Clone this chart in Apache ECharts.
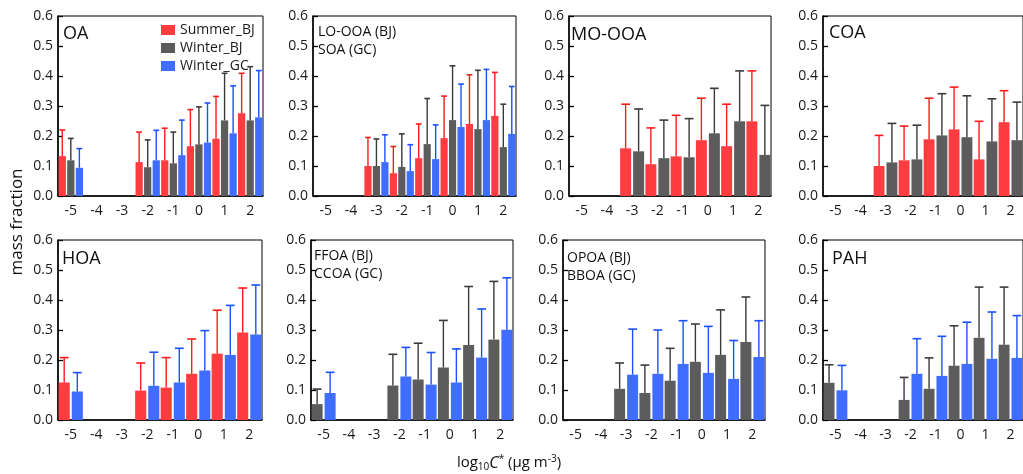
<!DOCTYPE html>
<html>
<head>
<meta charset="utf-8">
<script src="https://cdn.jsdelivr.net/npm/echarts@6/dist/echarts.min.js"></script>
<style>
html,body{margin:0;padding:0;background:#fff;}
#chart{width:1023px;height:474px;}
</style>
</head>
<body>
<div id="chart"></div>
<script>
// volatility bins, log10 C*
var bins = ['-5','-4','-3','-2','-1','0','1','2'];

// mean mass fraction and top of the error bar, per factor
var oaSum      = [0.133, null, null, 0.113, 0.119, 0.166, 0.191, 0.276];
var oaSumHi    = [0.220, null, null, 0.213, 0.226, 0.288, 0.332, 0.409];
var oaWbj      = [0.119, null, null, 0.096, 0.109, 0.172, 0.252, 0.252];
var oaWbjHi    = [0.192, null, null, 0.187, 0.213, 0.297, 0.409, 0.431];
var oaWgc      = [0.094, null, null, 0.119, 0.136, 0.178, 0.209, 0.262];
var oaWgcHi    = [0.158, null, null, 0.219, 0.253, 0.310, 0.367, 0.418];

var looSum     = [null, null, 0.100, 0.076, 0.126, 0.193, 0.240, 0.267];
var looSumHi   = [null, null, 0.195, 0.165, 0.240, 0.333, 0.404, 0.412];
var looWbj     = [null, null, 0.100, 0.097, 0.173, 0.253, 0.223, 0.163];
var looWbjHi   = [null, null, 0.190, 0.207, 0.325, 0.434, 0.419, 0.306];
var looWgc     = [null, null, 0.113, 0.083, 0.123, 0.230, 0.253, 0.207];
var looWgcHi   = [null, null, 0.204, 0.171, 0.237, 0.373, 0.422, 0.365];

var mooSum     = [null, null, 0.159, 0.106, 0.132, 0.186, 0.166, 0.249];
var mooSumHi   = [null, null, 0.306, 0.227, 0.269, 0.326, 0.306, 0.417];
var mooWbj     = [null, null, 0.149, 0.126, 0.129, 0.209, 0.249, 0.137];
var mooWbjHi   = [null, null, 0.290, 0.253, 0.258, 0.359, 0.417, 0.302];

var coaSum     = [null, null, 0.100, 0.119, 0.189, 0.222, 0.122, 0.246];
var coaSumHi   = [null, null, 0.202, 0.233, 0.326, 0.363, 0.249, 0.351];
var coaWbj     = [null, null, 0.112, 0.122, 0.202, 0.196, 0.182, 0.186];
var coaWbjHi   = [null, null, 0.242, 0.236, 0.341, 0.334, 0.324, 0.313];

var hoaSum     = [0.125, null, null, 0.098, 0.108, 0.154, 0.221, 0.292];
var hoaSumHi   = [0.208, null, null, 0.190, 0.208, 0.270, 0.366, 0.440];
var hoaWgc     = [0.095, null, null, 0.114, 0.125, 0.165, 0.217, 0.285];
var hoaWgcHi   = [0.158, null, null, 0.226, 0.239, 0.298, 0.382, 0.450];

var ffoaWbj    = [0.053, null, null, 0.115, 0.135, 0.175, 0.250, 0.268];
var ffoaWbjHi  = [0.103, null, null, 0.219, 0.256, 0.332, 0.445, 0.462];
var ffoaWgc    = [0.090, null, null, 0.145, 0.118, 0.125, 0.208, 0.301];
var ffoaWgcHi  = [0.159, null, null, 0.242, 0.225, 0.237, 0.370, 0.474];

var opoaWbj    = [null, null, 0.104, 0.090, 0.131, 0.194, 0.217, 0.260];
var opoaWbjHi  = [null, null, 0.190, 0.183, 0.239, 0.320, 0.367, 0.410];
var opoaWgc    = [null, null, 0.151, 0.154, 0.187, 0.157, 0.137, 0.210];
var opoaWgcHi  = [null, null, 0.303, 0.300, 0.331, 0.312, 0.265, 0.331];

var pahWbj     = [0.124, null, null, 0.067, 0.104, 0.181, 0.274, 0.251];
var pahWbjHi   = [0.184, null, null, 0.142, 0.207, 0.314, 0.443, 0.443];
var pahWgc     = [0.099, null, null, 0.154, 0.147, 0.187, 0.204, 0.207];
var pahWgcHi   = [0.182, null, null, 0.271, 0.279, 0.326, 0.360, 0.348];

var FONT = "'Open Sans', 'DejaVu Sans', sans-serif";
var CAT_GAP = 0.05, BAR_GAP = 0.18;

var SUM = {name:'Summer_BJ', color:'#ff3c40', err:'#ff1a1a'};
var WBJ = {name:'Winter_BJ', color:'#5c5c5c', err:'#3a3a3a'};
var WGC = {name:'Winter_GC', color:'#3f6dff', err:'#1a50ff'};

var panels = [
	{title:['OA'], tx:63, ty:34, grid:{left:58, top:16, width:205, height:180},
	 series:[[SUM, oaSum, oaSumHi],[WBJ, oaWbj, oaWbjHi],[WGC, oaWgc, oaWgcHi]]},
	{title:['LO-OOA (BJ)','SOA (GC)'], tx:318, ty:32, grid:{left:313, top:16, width:203, height:180},
	 series:[[SUM, looSum, looSumHi],[WBJ, looWbj, looWbjHi],[WGC, looWgc, looWgcHi]]},
	{title:['MO-OOA'], tx:571, ty:35, grid:{left:569, top:16, width:202, height:180},
	 series:[[SUM, mooSum, mooSumHi],[WBJ, mooWbj, mooWbjHi]]},
	{title:['COA'], tx:829, ty:33, grid:{left:823, top:16, width:204, height:180},
	 series:[[SUM, coaSum, coaSumHi],[WBJ, coaWbj, coaWbjHi]]},
	{title:['HOA'], tx:62, ty:259, grid:{left:58, top:240, width:204, height:180},
	 series:[[SUM, hoaSum, hoaSumHi],[WGC, hoaWgc, hoaWgcHi]]},
	{title:['FFOA (BJ)','CCOA (GC)'], tx:314, ty:256, grid:{left:311, top:240, width:202, height:180},
	 series:[[WBJ, ffoaWbj, ffoaWbjHi],[WGC, ffoaWgc, ffoaWgcHi]]},
	{title:['OPOA (BJ)','BBOA (GC)'], tx:567, ty:258, grid:{left:563, top:240, width:202, height:180},
	 series:[[WBJ, opoaWbj, opoaWbjHi],[WGC, opoaWgc, opoaWgcHi]]},
	{title:['PAH'], tx:832, ty:259, grid:{left:823, top:240, width:204, height:180},
	 series:[[WBJ, pahWbj, pahWbjHi],[WGC, pahWgc, pahWgcHi]]}
];

function errRender(n, k, color){
	return function(params, api){
		var xi = api.value(0), m = api.value(1), hi = api.value(2);
		var band = api.size([1, 0])[0];
		var usable = band * (1 - CAT_GAP);
		var bw = usable / (n + (n - 1) * BAR_GAP);
		var cx = api.coord([xi, 0])[0] - usable / 2 + k * bw * (1 + BAR_GAP) + bw / 2;
		var yTop = api.coord([xi, hi])[1];
		var yBot = api.coord([xi, m])[1];
		var cw = bw * 0.8;
		return {
			type:'group',
			children:[
				{type:'line', shape:{x1:cx, y1:yBot, x2:cx, y2:yTop}, style:{stroke:color, lineWidth:1.4}},
				{type:'line', shape:{x1:cx - cw / 2, y1:yTop, x2:cx + cw / 2, y2:yTop}, style:{stroke:color, lineWidth:1.6}}
			]
		};
	};
}

var grids = [], xAxes = [], yAxes = [], series = [], graphics = [];
for(var p = 0; p < panels.length; p++){
	var pn = panels[p];
	grids.push({left:pn.grid.left, top:pn.grid.top, width:pn.grid.width, height:pn.grid.height,
		show:true, borderColor:'#000', borderWidth:1, backgroundColor:'transparent'});
	// axis with labels and ticks below the line
	xAxes.push({type:'category', gridIndex:p, data:bins, position:'bottom',
		axisLine:{lineStyle:{color:'#000', width:1.5}},
		axisTick:{inside:false, length:5, lineStyle:{color:'#000', width:1.3}},
		axisLabel:{color:'#1a1a1a', fontSize:14, fontFamily:FONT, margin:8},
		splitLine:{show:false}});
	// same axis again, only for ticks pointing up
	xAxes.push({type:'category', gridIndex:p, data:bins, position:'bottom', offset:0,
		axisLine:{show:false},
		axisTick:{inside:true, length:5, lineStyle:{color:'#000', width:1.3}},
		axisLabel:{show:false}, splitLine:{show:false}});
	yAxes.push({type:'value', gridIndex:p, min:0, max:0.6, interval:0.1,
		axisLine:{show:true, lineStyle:{color:'#000', width:1.5}},
		axisTick:{show:true, inside:true, length:5, lineStyle:{color:'#000', width:1.3}},
		axisLabel:{color:'#1a1a1a', fontSize:14, fontFamily:FONT, margin:5,
			formatter:function(v){ return v.toFixed(1); }},
		splitLine:{show:false}});
	var n = pn.series.length;
	for(var k = 0; k < n; k++){
		var s = pn.series[k];
		series.push({type:'bar', name:s[0].name, xAxisIndex:p * 2, yAxisIndex:p,
			data:s[1], barCategoryGap:(CAT_GAP * 100) + '%', barGap:(BAR_GAP * 100) + '%',
			itemStyle:{color:s[0].color}, silent:true});
		var ed = [];
		for(var i = 0; i < bins.length; i++){
			if(s[1][i] != null) ed.push([i, s[1][i], s[2][i]]);
		}
		series.push({type:'custom', xAxisIndex:p * 2, yAxisIndex:p, data:ed, silent:true,
			renderItem:errRender(n, k, s[0].err), z:3});
	}
	// panel label
	if(pn.title.length == 1){
		graphics.push({type:'text', x:pn.tx, y:pn.ty, style:{text:pn.title[0], fill:'#111',
			font:'18px ' + FONT, verticalAlign:'middle'}});
	}else{
		for(var t = 0; t < pn.title.length; t++){
			graphics.push({type:'text', x:pn.tx, y:pn.ty + t * 18, style:{text:pn.title[t], fill:'#111',
				font:'14px ' + FONT, verticalAlign:'middle'}});
		}
	}
}

graphics.push({type:'text', x:17, y:222, rotation:Math.PI / 2,
	style:{text:'mass fraction', fill:'#111', font:'17px ' + FONT, align:'center', verticalAlign:'middle'}});
graphics.push({type:'text', x:509, y:463,
	style:{text:'log{sub|10}{it|C}{sup|*} (μg m{sup|-3})', fill:'#111', font:'15px ' + FONT,
		align:'center', verticalAlign:'middle',
		rich:{
			sub:{fontSize:10, fontFamily:FONT, fill:'#111', verticalAlign:'bottom', padding:[8,0,0,0]},
			it:{fontSize:16, fontFamily:FONT, fontStyle:'italic', fill:'#111'},
			sup:{fontSize:10, fontFamily:FONT, fill:'#111', verticalAlign:'top', padding:[0,0,8,0]}
		}}});

var myChart = echarts.init(document.getElementById('chart'));
var option = {
	animation:false,
	backgroundColor:'#fff',
	legend:{
		orient:'vertical', left:156, top:18,
		data:['Summer_BJ','Winter_BJ','Winter_GC'],
		icon:'rect', itemWidth:14, itemHeight:10, itemGap:4,
		textStyle:{color:'#1a1a1a', fontSize:14, fontFamily:FONT}, selectedMode:false
	},
	grid:grids,
	xAxis:xAxes,
	yAxis:yAxes,
	series:series,
	graphic:graphics
};
myChart.setOption(option);
</script>
</body>
</html>
